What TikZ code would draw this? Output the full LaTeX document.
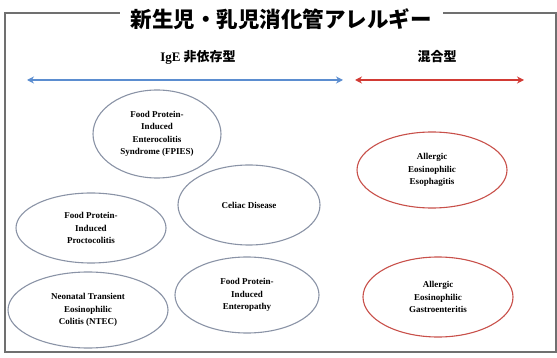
\documentclass[tikz,border=0pt]{standalone}
\usepackage{fontspec}
\setmainfont{Liberation Serif}
\newfontfamily\jpfont{Noto Sans CJK JP}
\usetikzlibrary{
	shapes.geometric,
	arrows.meta
}
\definecolor{ovalgray}{HTML}{8A93A6}
\definecolor{ovalred}{HTML}{C8504A}
\definecolor{igeblue}{HTML}{5B8DD0}
\definecolor{mixred}{HTML}{D23A34}
\definecolor{framegray}{HTML}{707070}
\tikzset{
	disease/.style={
		ellipse,
		draw=ovalgray,
		line width=1.1pt,
		inner sep=0pt,
		align=center,
		font=\bfseries\fontsize{9}{12.5}\selectfont
	},
	mixed/.style={
		disease,
		draw=ovalred
	},
	typerange/.style={
		line width=2pt,
		{Stealth[length=7pt,width=7pt]}-{Stealth[length=7pt,width=7pt]}
	},
	grouplabel/.style={
		font=\bfseries\fontsize{13}{13}\selectfont
	}
}

\begin{document}
\begin{tikzpicture}[x=1pt,y=-1pt]
		\useasboundingbox (0,0) rectangle (557,358);
		% frame and title
		\draw[framegray, line width=1.6pt] (5,13) rectangle (556,352);
		\node[fill=white, inner xsep=11pt, font=\jpfont\bfseries\fontsize{21.5}{21.5}\selectfont] (title) at (281,19) {新生児・乳児消化管アレルギー};
		% groups
		\node[grouplabel] (ige) at (198,57) {IgE {\jpfont 非依存型}};
		\node[grouplabel] (mix) at (437,57) {\jpfont 混合型};
		\coordinate (igeL) at (27,80);
		\coordinate (igeR) at (343,80);
		\coordinate (mixL) at (355,80);
		\coordinate (mixR) at (524,80);
		\draw[typerange, igeblue] (igeL) -- (igeR);
		\draw[typerange, mixred] (mixL) -- (mixR);
		% non-IgE
		\node[disease, minimum width=128pt, minimum height=88pt] (fpies) at (157,134) {Food Protein-\\Induced\\Enterocolitis\\Syndrome (FPIES)};
		\node[disease, minimum width=150pt, minimum height=70pt] (procto) at (91,228) {Food Protein-\\Induced\\Proctocolitis};
		\node[disease, minimum width=142pt, minimum height=80pt] (celiac) at (249,205) {Celiac Disease};
		\node[disease, minimum width=160pt, minimum height=76pt] (ntec) at (88,310) {Neonatal Transient\\Eosinophilic\\Colitis (NTEC)};
		\node[disease, minimum width=144pt, minimum height=76pt] (entero) at (247,295) {Food Protein-\\Induced\\Enteropathy};
		% mixed
		\node[mixed, minimum width=150pt, minimum height=76pt] (eoe) at (432,170) {Allergic\\Eosinophilic\\Esophagitis};
		\node[mixed, minimum width=150pt, minimum height=80pt] (egid) at (438,297) {Allergic\\Eosinophilic\\Gastroenteritis};
	\end{tikzpicture}
\end{document}
